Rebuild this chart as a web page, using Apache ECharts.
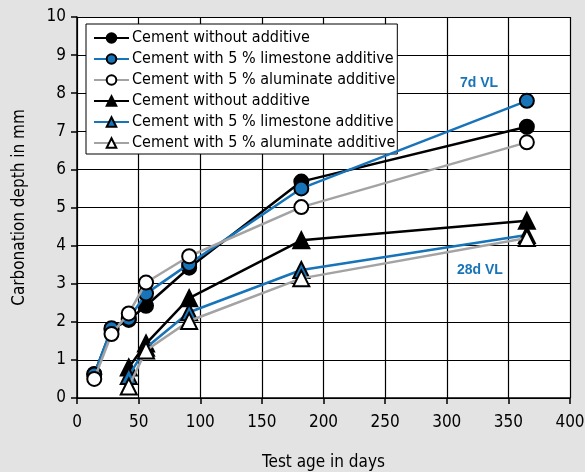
<!DOCTYPE html>
<html><head><meta charset="utf-8">
<script src="https://cdn.jsdelivr.net/npm/echarts@6/dist/echarts.min.js"></script>
<style>html,body{margin:0;padding:0;background:#e3e3e3}#c{width:585px;height:472px}</style>
</head><body><div id="c"></div>
<script>
var FONT = '"Liberation Sans Narrow","DejaVu Sans Condensed","Liberation Sans",sans-serif';
var ages7 = [14, 28, 42, 56, 91, 182, 365];
var ages28 = [42, 56, 91, 182, 365];
var c7_none = [0.63, 1.8, 2.05, 2.42, 3.42, 5.68, 7.12];
var c7_lime = [0.62, 1.83, 2.08, 2.74, 3.52, 5.5, 7.8];
var c7_alu  = [0.5, 1.68, 2.22, 3.03, 3.72, 5.01, 6.71];
var c28_none = [0.8, 1.43, 2.62, 4.14, 4.65];
var c28_lime = [0.58, 1.32, 2.25, 3.36, 4.28];
var c28_alu  = [0.3, 1.25, 2.02, 3.14, 4.2];
var names = ['Cement without additive','Cement with 5 % limestone additive','Cement with 5 % aluminate additive'];
var BLUE = '#1874b8', GRAY = '#a3a3a3';

function pairs(xs, ys){ return xs.map(function(x,i){ return [x, ys[i]]; }); }
function ser(name, xs, ys, lineColor, sym, fill, size, z){
  return {
    type:'line', name:name, data:pairs(xs, ys), symbol:sym, symbolSize:size,
    z:z,
    lineStyle:{color:lineColor, width:2.5},
    itemStyle:{color:fill, borderColor:'#000', borderWidth:2},
    emphasis:{disabled:true}
  };
}
var series = [
  ser(names[0], ages7, c7_none, '#000', 'circle', '#000', 14, 3),
  ser(names[1], ages7, c7_lime, BLUE, 'circle', BLUE, 14, 4),
  ser(names[2], ages7, c7_alu, GRAY, 'circle', '#fff', 14, 5),
  ser(names[0] + ' ', ages28, c28_none, '#000', 'triangle', '#000', 16, 3),
  ser(names[1] + ' ', ages28, c28_lime, BLUE, 'triangle', BLUE, 16, 4),
  ser(names[2] + ' ', ages28, c28_alu, GRAY, 'triangle', '#fff', 16, 5)
];

var chart = echarts.init(document.getElementById('c'), null, {renderer:'canvas'});
chart.setOption({
  backgroundColor:'#e3e3e3',
  animation:false,
  textStyle:{fontFamily:FONT},
  grid:{left:77, right:15, top:17, bottom:74, show:true, backgroundColor:'#fff', borderWidth:0,
        containLabel:false, outerBoundsMode:'none'},
  legend:{
    left:86, top:24, orient:'vertical', backgroundColor:'#fff', borderColor:'#000', borderWidth:1,
    padding:[6,2,3,7], itemGap:5, itemWidth:35, itemHeight:12,
    textStyle:{fontFamily:FONT, fontSize:16, color:'#000', padding:[0,0,0,-2]},
    data:series.map(function(s){ return s.name; }),
    formatter:function(n){ return n.trim(); }
  },
  xAxis:{
    type:'value', min:0, max:400, interval:50,
    name:'Test age in days', nameLocation:'middle', nameGap:56,
    nameTextStyle:{fontFamily:FONT, fontSize:17, color:'#000'},
    axisLine:{show:true, onZero:false, lineStyle:{color:'#000', width:1.5}},
    axisTick:{show:true, inside:false, length:6, lineStyle:{color:'#000', width:1.5}},
    axisLabel:{fontFamily:FONT, fontSize:17, color:'#000', margin:16},
    splitLine:{show:true, lineStyle:{color:'#000', width:1.2}}
  },
  yAxis:{
    type:'value', min:0, max:10, interval:1,
    name:'Carbonation depth in mm', nameLocation:'middle', nameGap:49,
    nameTextStyle:{fontFamily:FONT, fontSize:17, color:'#000'},
    axisLine:{show:true, lineStyle:{color:'#000', width:1.5}},
    axisTick:{show:true, inside:false, length:6, lineStyle:{color:'#000', width:1.5}},
    axisLabel:{fontFamily:FONT, fontSize:17, color:'#000', margin:11},
    splitLine:{show:true, lineStyle:{color:'#000', width:1.2}}
  },
  graphic:[
    {type:'text', left:460, top:76, style:{text:'7d VL', fill:BLUE, font:'bold 14px "Liberation Sans", sans-serif'}},
    {type:'text', left:457, top:263, style:{text:'28d VL', fill:BLUE, font:'bold 14px "Liberation Sans", sans-serif'}}
  ],
  series:series
});
</script></body></html>
